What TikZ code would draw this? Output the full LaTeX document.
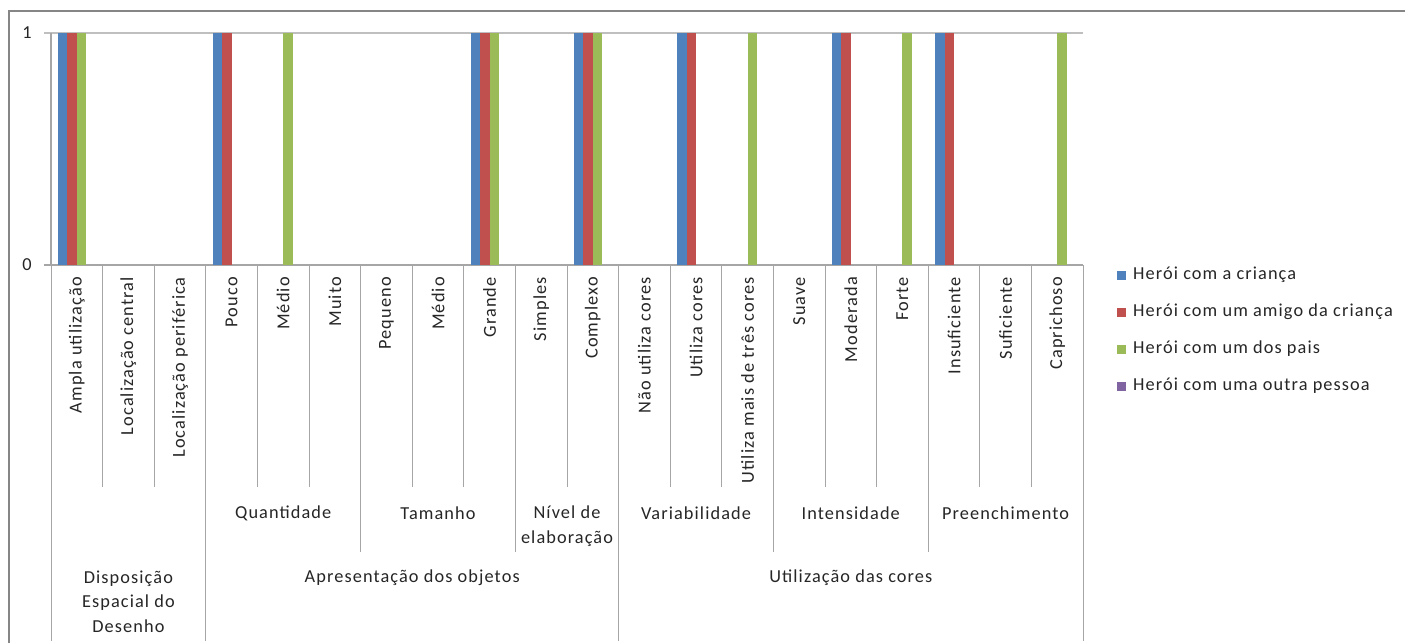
\documentclass[tikz,border=0pt]{standalone}
\usepackage{fontspec}
\setmainfont{Carlito}[LetterSpace=6]
\definecolor{serA}{HTML}{4F81BD}
\definecolor{serB}{HTML}{C0504D}
\definecolor{serC}{HTML}{9BBB59}
\definecolor{serD}{HTML}{8064A2}
\definecolor{gridc}{HTML}{BFBFBF}
\definecolor{framec}{HTML}{868686}
\definecolor{sepc}{HTML}{A6A6A6}
\tikzset{
    lbl/.style={font=\fontsize{18.3}{24.5}\selectfont,text=black!85,inner sep=0pt,align=center},
    sep/.style={draw=sepc,line width=1pt}
}
\def\cw{51.6}
\begin{document}
\begin{tikzpicture}[x=1pt,y=-1pt]
        \useasboundingbox(0,0)rectangle(1405,643);
        \fill[white](0,0)rectangle(1405,643);
        % value axis
        \draw[gridc,line width=1.2pt](44,33)--(1083,33);
        \draw[sepc,line width=1.2pt](44,265)--(1083,265);
        \draw[sepc,line width=1.2pt](51,33)--(51,265);
        \draw(27,33)node[lbl](ytop){1};
        \draw(27,265)node[lbl](ybot){0};
        % bars: category/offset/series
        \foreach \i/\k/\s in {1/0/A,1/1/B,1/2/C,4/0/A,4/1/B,5/2/C,9/0/A,9/1/B,9/2/C,
        11/0/A,11/1/B,11/2/C,13/0/A,13/1/B,14/2/C,16/0/A,16/1/B,17/2/C,18/0/A,18/1/B,20/2/C}{
            \fill[ser\s]({51+\cw*(\i-1)+6.8+9.5*\k},33)rectangle++(9.5,232);
        }
        % separators under the axis: position/depth
        \foreach \k/\d in {0/641,1/487,2/487,3/641,4/487,5/487,6/552,7/487,8/487,9/552,10/487,
        11/641,12/487,13/487,14/552,15/487,16/487,17/552,18/487,19/487,20/641}{
            \draw[sep]({51+\cw*\k},265)--({51+\cw*\k},\d);
        }
        % category labels
        \foreach \i/\t in {1/Ampla utilização,2/Localização central,3/Localização periférica,
        4/Pouco,5/Médio,6/Muito,7/Pequeno,8/Médio,9/Grande,10/Simples,11/Complexo,
        12/Não utiliza cores,13/Utiliza cores,14/Utiliza mais de três cores,15/Suave,
        16/Moderada,17/Forte,18/Insuficiente,19/Suficiente,20/Caprichoso}{
            \draw({51+\cw*(\i-0.5)},277)node[lbl,rotate=90,anchor=east](cat\i){\t};
        }
        % sub-groups
        \foreach \c/\t/\n in {4.5/Quantidade/qtd,7.5/Tamanho/tam,12.5/Variabilidade/var,
        15.5/Intensidade/int,18.5/Preenchimento/pre}{
            \draw({51+\cw*\c},513)node[lbl](\n){\t};
        }
        \draw({51+\cw*10},543)node[lbl,anchor=base](niv){Nível de\\elaboração};
        % groups
        \draw({51+\cw*1.5},632)node[lbl,anchor=base](disp){Disposição\\Espacial do\\Desenho};
        \draw({51+\cw*7},578)node[lbl](apr){Apresentação dos objetos};
        \draw({51+\cw*15.5},578)node[lbl](uti){Utilização das cores};
        % legend
        \foreach \y/\s/\t in {275/A/Herói com a criança,312/B/Herói com um amigo da criança,
        349/C/Herói com um dos pais,386/D/Herói com uma outra pessoa}{
            \fill[ser\s](1117,\y-4.5)rectangle++(9,9);
            \draw(1133,\y)node[lbl,anchor=west](leg\s){\t};
        }
        % frame, cut by the page on the right and at the bottom
        \draw[framec,line width=2pt](9,643)--(9,11)--(1405,11);
    \end{tikzpicture}
\end{document}
